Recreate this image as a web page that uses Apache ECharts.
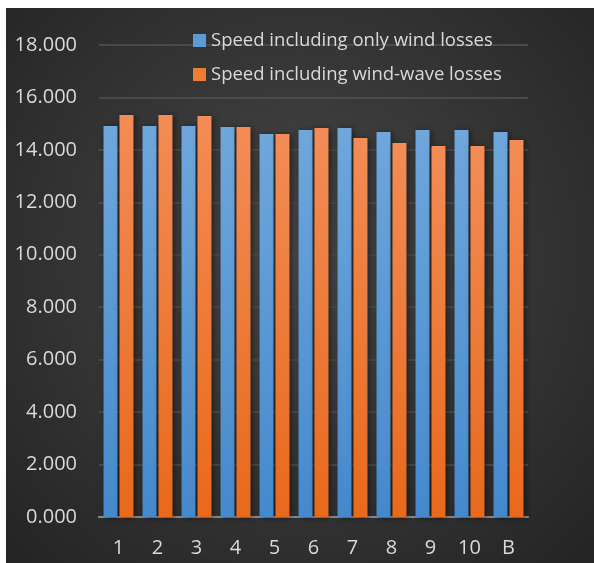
<!DOCTYPE html>
<html>
<head>
<meta charset="utf-8">
<script src="https://cdn.jsdelivr.net/npm/echarts@6/dist/echarts.min.js"></script>
<style>
html,body{margin:0;padding:0;background:#fff;}
#c{width:594px;height:563px;}
</style>
</head>
<body>
<div id="c"></div>
<script>
const categories = ['1','2','3','4','5','6','7','8','9','10','B'];
const windOnly = [14.91,14.91,14.91,14.87,14.61,14.76,14.83,14.68,14.76,14.76,14.68];
const windWave = [15.33,15.33,15.29,14.87,14.61,14.83,14.45,14.26,14.15,14.15,14.38];
const seriesNames = ['Speed including only wind losses','Speed including wind-wave losses'];

const chart = echarts.init(document.getElementById('c'));
const font = 'Open Sans';
function grad(top, bottom){
  return new echarts.graphic.LinearGradient(0,0,0,1,[{offset:0,color:top},{offset:1,color:bottom}]);
}
chart.setOption({
  animation:false,
  backgroundColor:'#fff',
  graphic:[{
    type:'rect', z:-10, silent:true,
    shape:{x:6,y:8,width:588,height:555},
    style:{fill:new echarts.graphic.RadialGradient(0.5,0.45,0.75,[{offset:0,color:'#474747'},{offset:1,color:'#242424'}])}
  }],
  legend:{
    orient:'vertical', left:188, top:26,
    itemWidth:13, itemHeight:13, itemGap:15,
    icon:'rect',
    textStyle:{color:'#d9d9d9', fontSize:18.5, fontFamily:font},
    data:[
      {name:seriesNames[0], itemStyle:{color:'#5b9bd5'}},
      {name:seriesNames[1], itemStyle:{color:'#ed7d31'}}
    ]
  },
  grid:{left:99, right:66, top:45, bottom:46},
  xAxis:{
    type:'category', data:categories,
    axisLine:{lineStyle:{color:'#8c8c8c', width:2}},
    axisTick:{show:false},
    axisLabel:{color:'#d9d9d9', fontSize:20, fontFamily:font, margin:21}
  },
  yAxis:{
    type:'value', min:0, max:18, interval:2,
    axisLine:{show:false}, axisTick:{show:false},
    splitLine:{lineStyle:{color:'#4a4a4a', width:2}},
    axisLabel:{color:'#d9d9d9', fontSize:20, fontFamily:font, margin:22,
      formatter:v=>v.toFixed(3)}
  },
  series:[
    {name:seriesNames[0], type:'bar', data:windOnly, barWidth:14, barGap:'14%',
     itemStyle:{color:grad('#6fa7dc','#4589cc'), shadowBlur:6, shadowColor:'rgba(0,0,0,0.5)', shadowOffsetX:2, shadowOffsetY:1}},
    {name:seriesNames[1], type:'bar', data:windWave, barWidth:14,
     itemStyle:{color:grad('#f38c56','#e8691b'), shadowBlur:6, shadowColor:'rgba(0,0,0,0.5)', shadowOffsetX:2, shadowOffsetY:1}}
  ]
});
</script>
</body>
</html>
